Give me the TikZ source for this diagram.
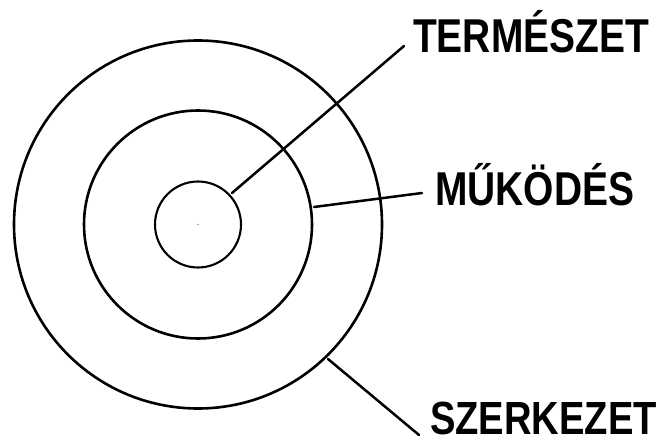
\documentclass[tikz,border=0pt]{standalone}
\usepackage{fontspec}
\setmainfont{Liberation Sans}
\begin{document}
\begin{tikzpicture}[x=1pt,y=-1pt,
  ring/.style={draw=black,line width=2.6pt},
  thinring/.style={draw=black,line width=2.1pt},
  leader/.style={draw=black,line width=2.5pt,line cap=round},
  lbl/.style={anchor=base west,inner sep=0pt,text depth=0pt,xscale=0.82,transform shape,font=\bfseries\fontsize{47.5}{50}\selectfont}]
\useasboundingbox[fill=white] (0,0) rectangle (665,444);
\coordinate (c) at (198,224.5);
\draw[ring] (c) circle (184);
\draw[ring] (c) circle (114);
\draw[thinring] (c) circle (43);
\fill[black!40] (c) circle (0.8);
\node[lbl] (t) at (413,53) {TERMÉSZET};
\node[lbl] (m) at (435,205) {MŰKÖDÉS};
\node[lbl,font=\bfseries\fontsize{46.5}{50}\selectfont] (s) at (430,434) {SZERKEZET};
\coordinate (t0) at (232,193);
\coordinate (t1) at (404,46);
\coordinate (m0) at (314,207);
\coordinate (m1) at (422,193);
\coordinate (s0) at (328,359);
\coordinate (s1) at (419,435);
\draw[leader] (t0) -- (t1);
\draw[leader] (m0) -- (m1);
\draw[leader] (s0) -- (s1);
\end{tikzpicture}
\end{document}
